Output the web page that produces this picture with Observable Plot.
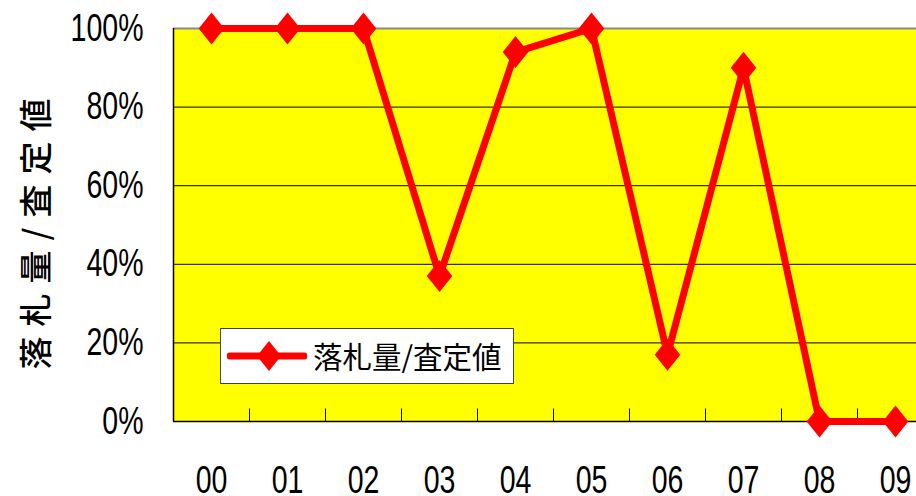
<!DOCTYPE html>
<html>
<head>
<meta charset="utf-8">
<script src="https://cdn.jsdelivr.net/npm/d3@7"></script>
<script src="https://cdn.jsdelivr.net/npm/@observablehq/plot@0.6"></script>
<style>
  html, body { margin: 0; padding: 0; background: #fff; overflow: hidden; }
  #wrap { position: relative; width: 916px; height: 496px; overflow: hidden; }
  #chart svg { max-width: none !important; }
  #legend {
    position: absolute; left: 220px; top: 328px; width: 292px; height: 54px;
    background: #fff; border: 1px solid #444; box-sizing: content-box;
    display: flex; align-items: center;
  }
  #legend svg { margin-left: 6px; }
  #legend span {
    font-family: "Noto Sans CJK JP", sans-serif; font-size: 29.5px; color: #000;
    margin-left: 6px; line-height: 1;
  }
</style>
</head>
<body>
<div id="wrap"><div id="chart"></div>
<div id="legend">
  <svg width="80" height="34" viewBox="0 0 80 34">
    <line x1="3" y1="17" x2="77" y2="17" stroke="#ff0000" stroke-width="7" stroke-linecap="round"/>
    <path d="M42,2 L54,17 L42,32 L30,17 Z" fill="#ff0000"/>
  </svg>
  <span>落札量/査定値</span>
</div>
</div>
<script>
const years = ["00","01","02","03","04","05","06","07","08","09"];
const ratio = [100, 100, 100, 37, 94, 100, 17, 90, 0, 0];
const yTicks = [0, 20, 40, 60, 80, 100];
const seriesName = "落札量/査定値";

const data = years.map((y, i) => ({i, year: y, value: ratio[i]}));
const boundaries = years.map((_, i) => i + 0.5);

const diamond = {
  draw(ctx, size) {
    const r = Math.sqrt(size / Math.PI);
    const hh = r, hw = r * 0.8;
    ctx.moveTo(0, -hh); ctx.lineTo(hw, 0); ctx.lineTo(0, hh); ctx.lineTo(-hw, 0); ctx.closePath();
  }
};

const numFont = "'Liberation Sans', Arial, sans-serif";

const chart = Plot.plot({
  width: 940,
  height: 496,
  marginLeft: 173,
  marginRight: 7,
  marginTop: 28,
  marginBottom: 75,
  style: {background: "transparent", overflow: "visible", maxWidth: "none"},
  x: {type: "linear", domain: [-0.5, 9.5]},
  y: {domain: [0, 100]},
  marks: [
    Plot.frame({fill: "#ffff00", stroke: null}),
    Plot.ruleY(yTicks.filter(d => d < 100), {stroke: "#000", strokeWidth: 1}),
    Plot.ruleY([100], {stroke: "#888", strokeWidth: 2}),
    Plot.ruleX([-0.5], {stroke: "#000", strokeWidth: 1.5}),
    Plot.ruleY([0], {stroke: "#000", strokeWidth: 1.5}),
    Plot.ruleX(boundaries, {x: d => d, y1: 0, y2: 3.2, stroke: "#000", strokeWidth: 1}),
    Plot.axisY({ticks: yTicks, tickFormat: d => d + "%", tickSize: 0, tickPadding: 30,
      fontSize: 38, fontFamily: numFont, fill: "#000", label: null}),
    Plot.axisX({ticks: years.map((_, i) => i), tickFormat: i => years[i], tickSize: 0, tickPadding: 45,
      fontSize: 38, fontFamily: numFont, fill: "#000", label: null}),
    Plot.line(data, {x: "i", y: "value", stroke: "#ff0000", strokeWidth: 7, strokeLinejoin: "round"}),
    Plot.dot(data, {x: "i", y: "value", r: 16, symbol: diamond, fill: "#ff0000", stroke: null}),
    Plot.text([seriesName], {
      frameAnchor: "left", textAnchor: "middle", lineAnchor: "middle", dx: -136, dy: 4, rotate: -90, text: d => d,
      fontSize: 33, fontFamily: "'Noto Sans CJK JP', sans-serif", fontWeight: 500, fill: "#000"
    })
  ]
});
document.getElementById("chart").appendChild(chart);

// narrow the numeric tick labels horizontally (condensed look)
d3.select(chart).selectAll("g[aria-label$='tick label'] text").each(function() {
  const el = d3.select(this);
  const t = el.attr("transform") || "";
  el.attr("transform", t + " scale(0.75,1)");
});
d3.select(chart).selectAll("text").filter(function(){ return this.textContent === seriesName; })
  .style("letter-spacing", "10px");
</script>
</body>
</html>
